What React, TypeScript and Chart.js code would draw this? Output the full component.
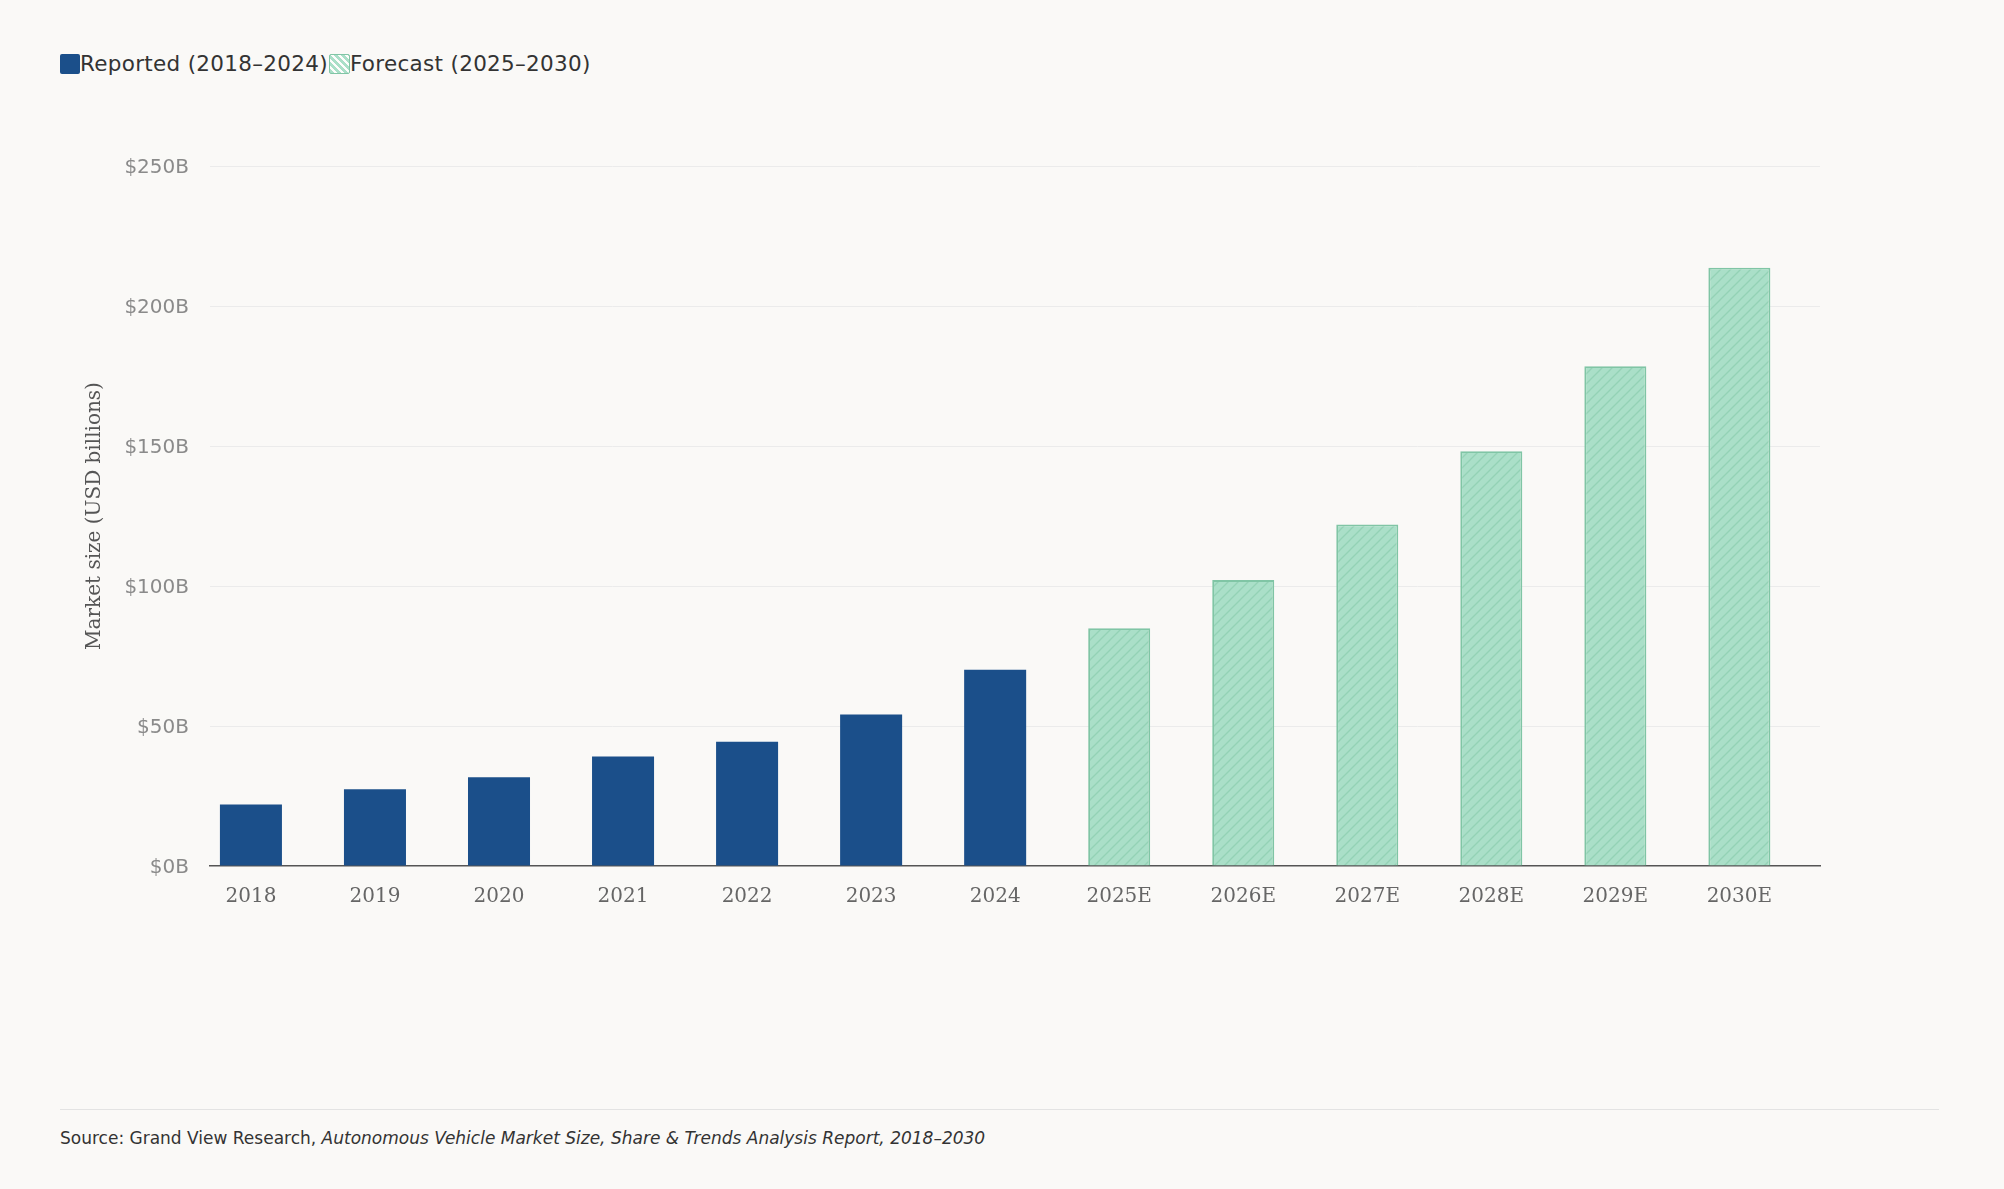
import { useEffect, useRef } from 'react';
import { Chart, registerables } from 'chart.js';

Chart.register(...registerables);

const categories = ['2018', '2019', '2020', '2021', '2022', '2023', '2024', '2025E', '2026E', '2027E', '2028E', '2029E', '2030E'];
const reportedValues = [22.0, 27.4, 31.7, 39.1, 44.4, 54.1, 70.1];
const forecastValues = [84.9, 102.1, 122.0, 148.1, 178.5, 213.7];
const yTickValues = [0, 50, 100, 150, 200, 250];
const legendLabels = ['Reported (2018–2024)', 'Forecast (2025–2030)'];
const yAxisTitle = 'Market size (USD billions)';

const BG = '#faf9f7';
const REPORTED = '#1b4f8a';
const FORECAST_FILL = '#aadfc8';
const FORECAST_HATCH = '#93d2b5';
const FORECAST_BORDER = '#80c5a5';

function makeHatch(ctx: CanvasRenderingContext2D): CanvasPattern | string {
  const s = 10;
  const c = document.createElement('canvas');
  c.width = s;
  c.height = s;
  const g = c.getContext('2d');
  if (!g) return FORECAST_FILL;
  g.fillStyle = FORECAST_FILL;
  g.fillRect(0, 0, s, s);
  g.strokeStyle = FORECAST_HATCH;
  g.lineWidth = 1.3;
  g.beginPath();
  g.moveTo(0, s);
  g.lineTo(s, 0);
  g.moveTo(-s / 2, s / 2);
  g.lineTo(s / 2, -s / 2);
  g.moveTo(s / 2, s * 1.5);
  g.lineTo(s * 1.5, s / 2);
  g.stroke();
  return ctx.createPattern(c, 'repeat') || FORECAST_FILL;
}

export default function App() {
  const canvasRef = useRef<HTMLCanvasElement | null>(null);

  useEffect(() => {
    const canvas = canvasRef.current;
    if (!canvas) return;
    const ctx = canvas.getContext('2d');
    if (!ctx) return;
    const hatch = makeHatch(ctx);

    const chart = new Chart(canvas, {
      type: 'bar',
      data: {
        datasets: [
          {
            label: legendLabels[0],
            data: reportedValues.map((v, i) => ({ x: i, y: v })),
            backgroundColor: REPORTED,
            borderWidth: 0,
            barPercentage: 0.5,
            categoryPercentage: 1,
          },
          {
            label: legendLabels[1],
            data: forecastValues.map((v, i) => ({ x: reportedValues.length + i, y: v })),
            backgroundColor: hatch as any,
            borderColor: FORECAST_BORDER,
            borderWidth: 1.8,
            barPercentage: 0.5,
            categoryPercentage: 1,
          },
        ],
      },
      options: {
        responsive: false,
        animation: false,
        events: [],
        layout: { padding: { left: 77, right: 184, top: 166, bottom: 74 } },
        plugins: { legend: { display: false }, tooltip: { enabled: false } },
        scales: {
          x: {
            type: 'linear',
            stacked: true,
            offset: false,
            min: -0.33,
            max: 12.65,
            bounds: 'data',
            afterBuildTicks: (axis: any) => {
              axis.ticks = categories.map((_, i) => ({ value: i }));
            },
            afterFit: (axis: any) => {
              axis.height = 60;
            },
            grid: { display: false, drawTicks: false, offset: false },
            border: { display: true, color: '#555555', width: 1.5 },
            ticks: {
              autoSkip: false,
              maxRotation: 0,
              minRotation: 0,
              padding: 18.5,
              color: '#666666',
              font: { family: 'DejaVu Serif', size: 20 },
              callback: (v: any) => categories[Number(v)] ?? '',
            },
          },
          y: {
            stacked: true,
            min: 0,
            max: 250,
            afterBuildTicks: (axis: any) => {
              axis.ticks = yTickValues.map((v) => ({ value: v }));
            },
            afterFit: (axis: any) => {
              axis.width = 133;
            },
            grid: {
              color: (c: any) => (c.tick && c.tick.value === 0 ? 'rgba(0,0,0,0)' : '#ebebeb'),
              lineWidth: 1,
              drawTicks: false,
            },
            border: { display: false },
            ticks: {
              padding: 21,
              labelOffset: 2,
              color: '#8a8a8a',
              font: { family: 'DejaVu Sans', size: 20 },
              callback: (v: any) => `$${v}B`,
            },
            title: {
              display: true,
              text: yAxisTitle,
              color: '#555555',
              font: { family: 'DejaVu Serif', size: 20 },
              padding: { top: 5.5, bottom: 4 },
            },
          },
        },
      },
    });

    return () => chart.destroy();
  }, []);

  const legendText: React.CSSProperties = {
    fontFamily: '"DejaVu Sans", sans-serif',
    fontSize: 21.5,
    letterSpacing: '0.3px',
    color: '#333333',
    lineHeight: '20px',
    whiteSpace: 'nowrap',
    position: 'relative',
    top: 0,
  };

  return (
    <div style={{ position: 'fixed', left: 0, top: 0, width: 2004, height: 1189, background: BG, overflow: 'hidden' }}>
      <div style={{ position: 'absolute', left: 60, top: 54, height: 20, display: 'flex', alignItems: 'center' }}>
        <div style={{ width: 20, height: 20, background: REPORTED, borderRadius: 2, boxSizing: 'border-box' }} />
        <span style={{ ...legendText, marginLeft: 0 }}>{legendLabels[0]}</span>
        <div
          style={{
            width: 21,
            height: 20,
            marginLeft: 1,
            borderRadius: 2,
            boxSizing: 'border-box',
            border: `1px solid ${FORECAST_BORDER}`,
            background: `repeating-linear-gradient(45deg, ${FORECAST_FILL} 0px, ${FORECAST_FILL} 3px, rgba(255,255,255,0.65) 3px, rgba(255,255,255,0.65) 5px)`,
          }}
        />
        <span style={legendText}>{legendLabels[1]}</span>
      </div>
      <canvas
        ref={canvasRef}
        width={2004}
        height={1000}
        style={{ position: 'absolute', left: 0, top: 0, width: 2004, height: 1000, display: 'block' }}
      />
      <div style={{ position: 'absolute', left: 60, top: 1109, width: 1879, height: 1, background: '#e3e3e3' }} />
      <div
        style={{
          position: 'absolute',
          left: 60,
          top: 1128,
          fontFamily: '"DejaVu Sans", sans-serif',
          fontSize: 17,
          lineHeight: '20px',
          color: '#333333',
          whiteSpace: 'nowrap',
        }}
      >
        Source: Grand View Research,{' '}
        <i>Autonomous Vehicle Market Size, Share &amp; Trends Analysis Report, 2018–2030</i>
      </div>
    </div>
  );
}
